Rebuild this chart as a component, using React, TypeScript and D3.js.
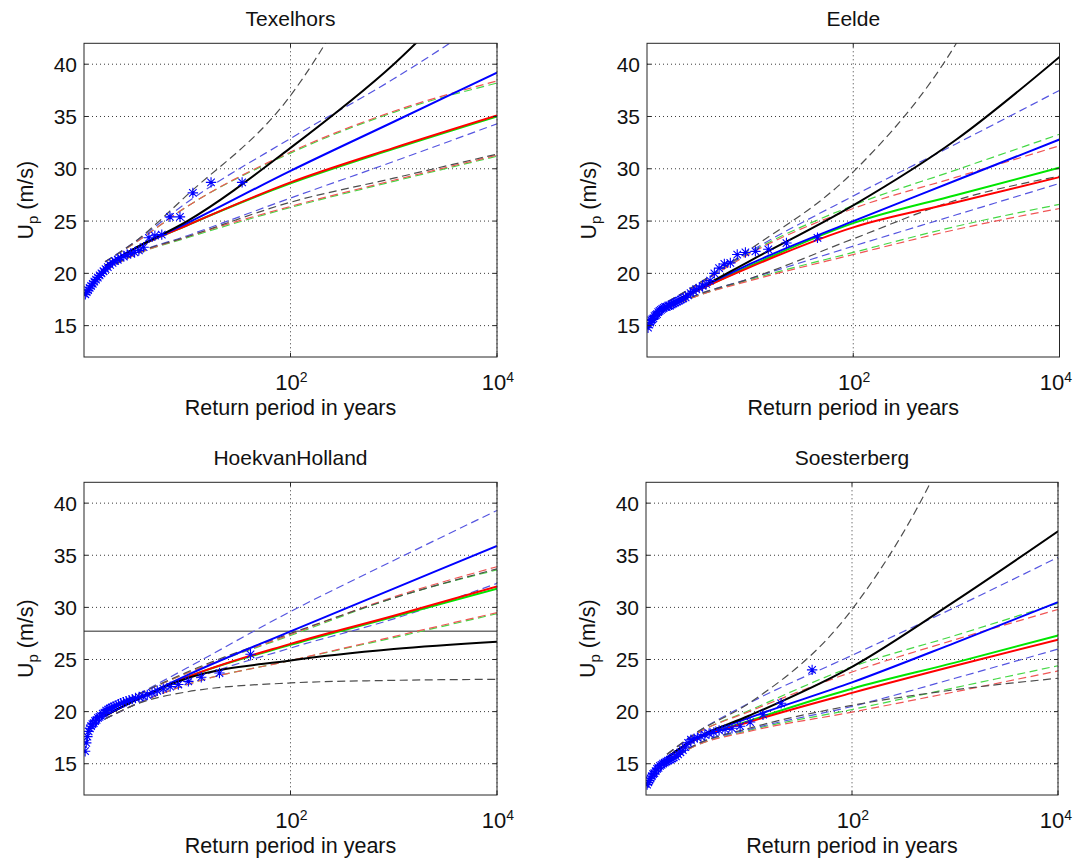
import React from "react";
import * as d3 from "d3";

// return periods (years) at which the fitted curves were read
const returnPeriods = [1.6, 3, 10, 100, 1000, 10000];
const yTicks = [15, 20, 25, 30, 35, 40];
const xTicks = [100, 10000];
const xTickExponents = ["2", "4"];

// observed annual maxima (m/s), largest first
const texelhorsObserved = [28.7, 28.7, 27.7, 25.4, 25.4, 23.7, 23.6, 23.4, 22.5, 22.2, 22.0, 21.9, 21.8, 21.6, 21.5, 21.3, 21.2, 21.0, 20.8, 20.6, 20.4, 20.2, 20.0, 19.8, 19.6, 19.4, 19.2, 19.0, 18.8, 18.6, 18.4, 18.2, 18.0];
const eeldeObserved = [23.4, 22.9, 22.3, 22.1, 22.0, 21.8, 21.0, 20.9, 20.5, 20.0, 19.3, 19.0, 18.8, 18.6, 18.5, 18.3, 18.1, 17.9, 17.7, 17.6, 17.5, 17.4, 17.3, 17.2, 17.1, 17.0, 16.9, 16.9, 16.8, 16.8, 16.7, 16.6, 16.5, 16.4, 16.3, 16.1, 16.0, 15.9, 15.7, 15.6, 15.5, 15.3, 15.1, 14.8];
const hoekObserved = [25.5, 23.7, 23.3, 22.9, 22.6, 22.4, 22.2, 22.0, 21.8, 21.6, 21.5, 21.4, 21.3, 21.2, 21.1, 21.0, 20.9, 20.8, 20.7, 20.6, 20.5, 20.4, 20.3, 20.2, 20.1, 19.9, 19.8, 19.6, 19.5, 19.4, 19.2, 19.1, 18.9, 18.8, 18.6, 18.4, 18.1, 17.6, 17.0, 16.2];
const soesterbergObserved = [24.0, 20.8, 19.7, 19.0, 18.6, 18.4, 18.3, 18.2, 18.0, 17.9, 17.8, 17.6, 17.5, 17.4, 17.3, 17.0, 16.6, 16.3, 16.1, 15.9, 15.7, 15.6, 15.5, 15.4, 15.3, 15.2, 15.1, 15.0, 14.9, 14.8, 14.6, 14.5, 14.3, 14.1, 14.0, 13.8, 13.6, 13.4, 13.2, 13.0];

// fitted return levels with lower / upper bounds
const texelhorsBlack = [20.7, 22.3, 25.0, 32.0, 40.0, 50.0];
const texelhorsBlackLower = [20.3, 21.8, 23.5, 26.8, 29.1, 31.4];
const texelhorsBlackUpper = [21.1, 22.9, 27.5, 37.0, 54, 76];
const texelhorsBlue = [20.7, 22.3, 24.8, 29.8, 34.5, 39.2];
const texelhorsBlueLower = [20.3, 21.8, 23.6, 27.2, 30.7, 34.3];
const texelhorsBlueUpper = [21.1, 22.9, 26.8, 32.9, 38.6, 45.0];
const texelhorsRed = [20.7, 22.3, 24.6, 28.7, 32.0, 35.1];
const texelhorsRedLower = [20.3, 21.7, 23.5, 26.4, 28.9, 31.3];
const texelhorsRedUpper = [21.1, 22.8, 26.4, 31.6, 35.5, 38.4];
const texelhorsGreen = [20.7, 22.3, 24.6, 28.6, 31.9, 35.0];
const texelhorsGreenLower = [20.3, 21.7, 23.4, 26.3, 28.8, 31.2];
const texelhorsGreenUpper = [21.1, 22.8, 26.4, 31.5, 35.4, 38.2];

const eeldeBlack = [17.0, 18.4, 21.2, 26.5, 32.8, 40.7];
const eeldeBlackLower = [16.7, 17.9, 19.5, 23.3, 27.0, 29.3];
const eeldeBlackUpper = [17.3, 18.9, 22.3, 29.7, 42.0, 62];
const eeldeBlue = [17.0, 18.4, 20.9, 25.0, 28.9, 32.8];
const eeldeBlueLower = [16.7, 17.9, 19.5, 22.6, 25.6, 28.6];
const eeldeBlueUpper = [17.3, 18.9, 22.1, 27.4, 32.4, 37.5];
const eeldeRed = [17.0, 18.3, 20.6, 24.4, 26.8, 29.2];
const eeldeRedLower = [16.7, 17.8, 19.3, 21.8, 24.2, 26.2];
const eeldeRedUpper = [17.3, 18.8, 21.9, 26.2, 29.2, 32.2];
const eeldeGreen = [17.0, 18.3, 20.7, 24.8, 27.5, 30.1];
const eeldeGreenLower = [16.7, 17.8, 19.4, 22.0, 24.5, 26.6];
const eeldeGreenUpper = [17.3, 18.8, 22.0, 26.5, 29.9, 33.3];

const hoekBlack = [19.6, 21.0, 23.2, 24.9, 26.0, 26.7];
const hoekBlackLower = [19.3, 20.6, 21.9, 22.75, 23.0, 23.1];
const hoekBlackUpper = [19.9, 21.4, 23.8, 27.5, 30.9, 33.7];
const hoekBlue = [19.6, 21.0, 23.5, 27.7, 31.8, 35.9];
const hoekBlueLower = [19.3, 20.6, 22.9, 26.1, 28.9, 32.3];
const hoekBlueUpper = [19.9, 21.4, 24.2, 29.6, 34.5, 39.3];
const hoekRed = [19.6, 21.0, 23.3, 26.5, 29.2, 32.0];
const hoekRedLower = [19.3, 20.6, 22.6, 24.9, 27.2, 29.5];
const hoekRedUpper = [19.9, 21.4, 23.7, 27.4, 31.0, 33.9];
const hoekGreen = [19.6, 21.0, 23.3, 26.4, 29.1, 31.8];
const hoekGreenLower = [19.3, 20.6, 22.6, 24.9, 27.1, 29.4];
const hoekGreenUpper = [19.9, 21.4, 23.7, 27.3, 30.9, 33.6];
const hoekUpperLimit = 27.7;

const soesterbergBlack = [15.6, 17.4, 19.6, 24.3, 30.6, 37.3];
const soesterbergBlackLower = [15.2, 16.8, 18.4, 20.6, 22.1, 23.2];
const soesterbergBlackUpper = [15.9, 17.9, 20.8, 29.8, 47, 75];
const soesterbergBlue = [15.6, 17.4, 19.4, 22.8, 26.6, 30.5];
const soesterbergBlueLower = [15.2, 16.8, 18.3, 20.5, 23.2, 26.0];
const soesterbergBlueUpper = [15.9, 17.9, 20.8, 25.4, 30.0, 34.8];
const soesterbergRed = [15.6, 17.3, 19.0, 21.8, 24.4, 26.9];
const soesterbergRedLower = [15.2, 16.7, 18.1, 19.95, 21.9, 23.9];
const soesterbergRedUpper = [15.9, 17.8, 20.0, 23.8, 26.9, 29.8];
const soesterbergGreen = [15.6, 17.3, 19.1, 22.2, 24.7, 27.3];
const soesterbergGreenLower = [15.2, 16.7, 18.2, 20.2, 22.3, 24.4];
const soesterbergGreenUpper = [15.9, 17.8, 20.1, 24.3, 27.3, 30.4];

type Band = { key: string; fit: number[]; lower: number[]; upper: number[] };
type Station = { name: string; observed: number[]; bands: Band[]; limit?: number };

const stations: Station[] = [
  {
    name: "Texelhors",
    observed: texelhorsObserved,
    bands: [
      { key: "green", fit: texelhorsGreen, lower: texelhorsGreenLower, upper: texelhorsGreenUpper },
      { key: "red", fit: texelhorsRed, lower: texelhorsRedLower, upper: texelhorsRedUpper },
      { key: "blue", fit: texelhorsBlue, lower: texelhorsBlueLower, upper: texelhorsBlueUpper },
      { key: "black", fit: texelhorsBlack, lower: texelhorsBlackLower, upper: texelhorsBlackUpper },
    ],
  },
  {
    name: "Eelde",
    observed: eeldeObserved,
    bands: [
      { key: "green", fit: eeldeGreen, lower: eeldeGreenLower, upper: eeldeGreenUpper },
      { key: "red", fit: eeldeRed, lower: eeldeRedLower, upper: eeldeRedUpper },
      { key: "blue", fit: eeldeBlue, lower: eeldeBlueLower, upper: eeldeBlueUpper },
      { key: "black", fit: eeldeBlack, lower: eeldeBlackLower, upper: eeldeBlackUpper },
    ],
  },
  {
    name: "HoekvanHolland",
    observed: hoekObserved,
    limit: hoekUpperLimit,
    bands: [
      { key: "green", fit: hoekGreen, lower: hoekGreenLower, upper: hoekGreenUpper },
      { key: "red", fit: hoekRed, lower: hoekRedLower, upper: hoekRedUpper },
      { key: "blue", fit: hoekBlue, lower: hoekBlueLower, upper: hoekBlueUpper },
      { key: "black", fit: hoekBlack, lower: hoekBlackLower, upper: hoekBlackUpper },
    ],
  },
  {
    name: "Soesterberg",
    observed: soesterbergObserved,
    bands: [
      { key: "green", fit: soesterbergGreen, lower: soesterbergGreenLower, upper: soesterbergGreenUpper },
      { key: "red", fit: soesterbergRed, lower: soesterbergRedLower, upper: soesterbergRedUpper },
      { key: "blue", fit: soesterbergBlue, lower: soesterbergBlueLower, upper: soesterbergBlueUpper },
      { key: "black", fit: soesterbergBlack, lower: soesterbergBlackLower, upper: soesterbergBlackUpper },
    ],
  },
];

const boxes = [
  { left: 84, right: 497, top: 43.3, bottom: 357 },
  { left: 647, right: 1059.5, top: 43.3, bottom: 357 },
  { left: 84, right: 497, top: 482.3, bottom: 795 },
  { left: 646, right: 1058, top: 482.3, bottom: 795 },
];

const solidColor: Record<string, string> = { green: "#00e600", red: "#ff0000", blue: "#0000ff", black: "#000000" };
const dashColor: Record<string, string> = { green: "#45d845", red: "#f05555", blue: "#5555e0", black: "#4d4d4d" };

const FONT = "'Liberation Sans', Arial, Helvetica, sans-serif";
const WIDTH = 1074;

function asterisk(cx: number, cy: number, r: number) {
  const k = r * 0.72;
  return `M${cx - r},${cy}H${cx + r}M${cx},${cy - r}V${cy + r}M${cx - k},${cy - k}L${cx + k},${cy + k}M${cx - k},${cy + k}L${cx + k},${cy - k}`;
}

const Panel: React.FC<{ station: Station; box: (typeof boxes)[number]; idx: number }> = ({ station, box, idx }) => {
  const x = d3.scaleLog().domain([1, 1e4]).range([box.left, box.right]);
  const y = d3.scaleLinear().domain([12, 42]).range([box.bottom, box.top]);
  const line = d3
    .line<number>()
    .x((_, i) => x(returnPeriods[i]))
    .y((d) => y(d))
    .curve(d3.curveMonotoneX);

  const n = station.observed.length;
  const clipId = `clip-${idx}`;
  const cx = (box.left + box.right) / 2;
  const cy = (box.top + box.bottom) / 2;

  return (
    <g>
      <defs>
        <clipPath id={clipId}>
          <rect x={box.left} y={box.top} width={box.right - box.left} height={box.bottom - box.top} />
        </clipPath>
      </defs>
      <rect x={box.left} y={box.top} width={box.right - box.left} height={box.bottom - box.top} fill="#fff" />

      {/* grid */}
      {yTicks.map((t) => (
        <line key={`gy${t}`} x1={box.left} x2={box.right} y1={y(t)} y2={y(t)} stroke="#3a3a3a" strokeWidth={1} strokeDasharray="1,3" />
      ))}
      {xTicks.map((t) => (
        <line key={`gx${t}`} x1={x(t)} x2={x(t)} y1={box.top} y2={box.bottom} stroke="#3a3a3a" strokeWidth={1} strokeDasharray="1,3" />
      ))}

      <g clipPath={`url(#${clipId})`}>
        {station.limit !== undefined && (
          <line x1={box.left} x2={box.right} y1={y(station.limit)} y2={y(station.limit)} stroke="#6e6e6e" strokeWidth={1.5} />
        )}
        {station.bands.map((b) => (
          <g key={`d${b.key}`} fill="none" stroke={dashColor[b.key]} strokeWidth={1.2} strokeDasharray="8,4.5">
            <path d={line(b.lower) || ""} />
            <path d={line(b.upper) || ""} />
          </g>
        ))}
        {station.bands.map((b) => (
          <path key={`s${b.key}`} d={line(b.fit) || ""} fill="none" stroke={solidColor[b.key]} strokeWidth={2} />
        ))}
        <path
          d={station.observed.map((v, i) => asterisk(x((n + 1) / (i + 1)), y(v), 5.2)).join("")}
          fill="none"
          stroke="#0000ff"
          strokeWidth={1.1}
        />
      </g>

      {/* ticks */}
      {yTicks.map((t) => (
        <g key={`ty${t}`} stroke="#262626">
          <line x1={box.left} x2={box.left + 4} y1={y(t)} y2={y(t)} />
          <line x1={box.right - 4} x2={box.right} y1={y(t)} y2={y(t)} />
        </g>
      ))}
      {xTicks.map((t) => (
        <g key={`tx${t}`} stroke="#262626">
          <line x1={x(t)} x2={x(t)} y1={box.bottom} y2={box.bottom - 4} />
          <line x1={x(t)} x2={x(t)} y1={box.top} y2={box.top + 4} />
        </g>
      ))}
      <rect x={box.left} y={box.top} width={box.right - box.left} height={box.bottom - box.top} fill="none" stroke="#262626" strokeWidth={1} />

      {/* tick labels */}
      {yTicks.map((t) => (
        <text key={`ly${t}`} x={box.left - 7} y={y(t)} dy="0.36em" textAnchor="end" fontSize={21} fontFamily={FONT} fill="#111">
          {t}
        </text>
      ))}
      {xTicks.map((t, i) => (
        <text
          key={`lx${t}`}
          x={Math.min(x(t) + 1, WIDTH - 18)}
          y={box.bottom + 32.5}
          textAnchor="middle"
          fontSize={22}
          fontFamily={FONT}
          fill="#111"
        >
          10
          <tspan dy={-8} fontSize={14}>
            {xTickExponents[i]}
          </tspan>
        </text>
      ))}

      {/* titles and axis labels */}
      <text x={cx} y={box.top - 17.5} textAnchor="middle" fontSize={21} fontFamily={FONT} fill="#111">
        {station.name}
      </text>
      <text x={cx} y={box.bottom + 58} textAnchor="middle" fontSize={21.5} fontFamily={FONT} fill="#111">
        Return period in years
      </text>
      <text
        x={box.left - 51}
        y={cy}
        transform={`rotate(-90, ${box.left - 51}, ${cy})`}
        textAnchor="middle"
        fontSize={21.5}
        fontFamily={FONT}
        fill="#111"
      >
        U
        <tspan dy={5} fontSize={15}>
          p
        </tspan>
        <tspan dy={-5}> (m/s)</tspan>
      </text>
    </g>
  );
};

export default function App() {
  return (
    <svg
      width={WIDTH}
      height={861}
      viewBox={`0 0 ${WIDTH} 861`}
      style={{ position: "absolute", left: 0, top: 0, background: "#fff" }}
    >
      <rect x={0} y={0} width={WIDTH} height={861} fill="#fff" />
      {stations.map((s, i) => (
        <Panel key={s.name} station={s} box={boxes[i]} idx={i} />
      ))}
    </svg>
  );
}
